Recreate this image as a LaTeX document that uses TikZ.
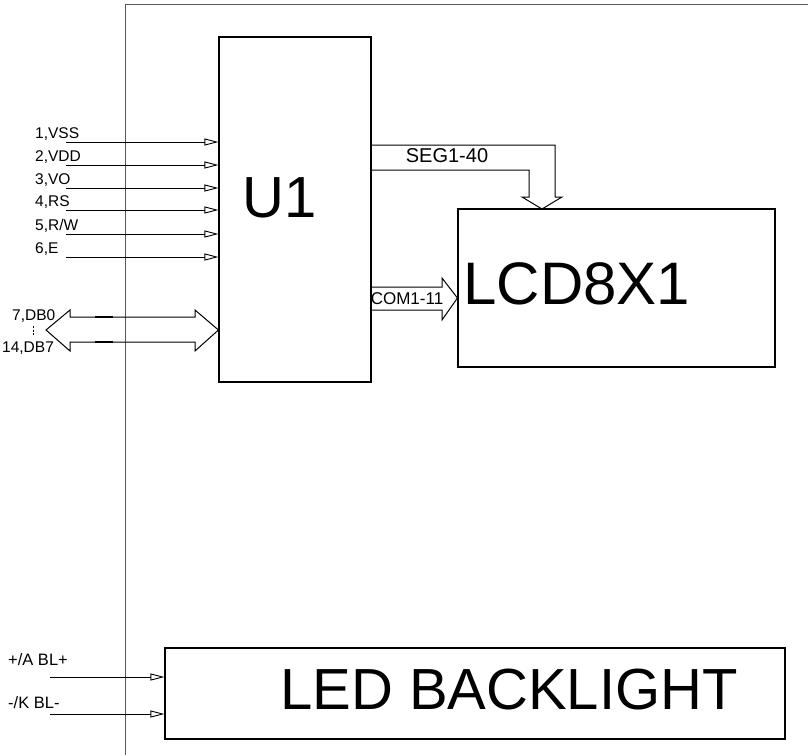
\documentclass[tikz,border=0pt]{standalone}
\usepackage{fontspec}
\setmainfont{Liberation Sans}
\usetikzlibrary{arrows.meta,calc}
\begin{document}
\begin{tikzpicture}[x=1pt,y=-1pt,
  box/.style={draw,line width=1.1pt,inner sep=0pt},
  inarr/.style={line width=0.9pt,-{Triangle[open,length=14pt,width=7pt,line width=0.9pt]}},
  lbl/.style={anchor=base west,inner sep=0pt,font=\fontsize{15.5}{17}\selectfont},
  bus/.style={line width=1pt,line join=miter},
  big/.style={inner sep=0pt,font=\fontsize{58}{60}\selectfont}]
\useasboundingbox (0,0) rectangle (808,755);
% frame
\draw[black!65,line width=1pt] (125,755) -- (125,4) -- (808,4);
% boxes
\node[box,minimum width=152pt,minimum height=345pt] (u1) at (295,209.5) {};
\node[box,minimum width=317pt,minimum height=158pt] (lcd) at (616.5,288) {};
\node[box,minimum width=620pt,minimum height=91pt] (led) at (475,693.5) {};
\node[big] (u1t) at (280,198) {U1};
\node[big,font=\fontsize{60}{62}\selectfont] (lcdt) at (577,284) {LCD8X1};
\node[big] (ledt) at (509,690) {LED BACKLIGHT};
% inputs
\coordinate (i1) at (66,142);
\coordinate (i2) at (66,165);
\coordinate (i3) at (66,188);
\coordinate (i4) at (66,210);
\coordinate (i5) at (66,234);
\coordinate (i6) at (66,257);
\foreach \k in {1,...,6}{\draw[inarr] (i\k) -- (i\k -| u1.west);}
\node[lbl] (l1) at (35,138) {1,VSS};
\node[lbl] (l2) at (35,161) {2,VDD};
\node[lbl] (l3) at (35,184) {3,VO};
\node[lbl] (l4) at (35,206) {4,RS};
\node[lbl] (l5) at (35,230) {5,R/W};
\node[lbl] (l6) at (35,253) {6,E};
% data bus
\coordinate (dbl) at (46,330);
\draw[bus] (dbl) -- (70,310) -- (70,317) -- (195,317) -- (195,310) -- (u1.west |- dbl)
  -- (195,351) -- (195,342) -- (70,342) -- (70,351) -- cycle;
\draw[line width=2.2pt] (95,317) -- (113,317) (95,342) -- (113,342);
\node[lbl] (l7) at (12,320) {7,DB0};
\node[lbl] (l8) at (2,352) {14,DB7};
\coordinate (dd1) at (33,326);
\coordinate (dd2) at (33,336);
\draw[line width=0.6pt,dash pattern=on 2pt off 1.5pt] (dd1) -- (dd2);
% SEG bus
\coordinate (segtip) at (542,209);
\draw[bus] (u1.east |- 0,145) -- (555,145) -- (555,197) -- (562,197) -- (segtip)
  -- (522,197) -- (529,197) -- (529,170) -- (u1.east |- 0,170);
\node[inner sep=0pt,font=\fontsize{20}{22}\selectfont] (segt) at (447,156) {SEG1-40};
% COM bus
\coordinate (comtip) at (lcd.west |- 0,298);
\draw[bus] (u1.east |- 0,287) -- (442,287) -- (442,278) -- (comtip)
  -- (442,320) -- (442,310) -- (u1.east |- 0,310);
\node[inner sep=0pt,font=\fontsize{17}{19}\selectfont] (comt) at (407,299) {COM1-11};
% backlight
\coordinate (b1) at (50,677);
\coordinate (b2) at (50,714);
\draw[inarr] (b1) -- (b1 -| led.west);
\draw[inarr] (b2) -- (b2 -| led.west);
\node[lbl,font=\fontsize{16.5}{18}\selectfont] (lb1) at (8,665) {+/A BL+};
\node[lbl,font=\fontsize{16.5}{18}\selectfont] (lb2) at (8,708) {-/K BL-};
\end{tikzpicture}
\end{document}
